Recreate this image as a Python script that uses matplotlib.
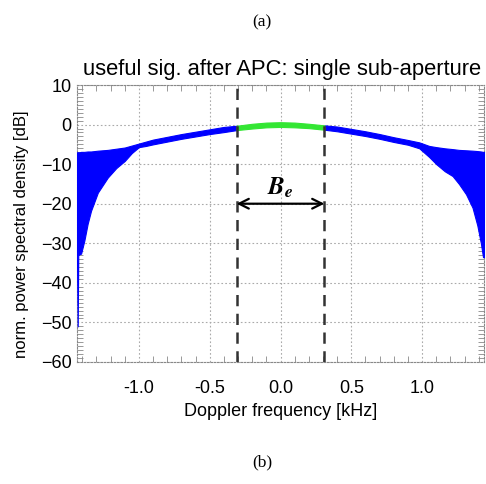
import numpy as np
import matplotlib
matplotlib.use("Agg")
import matplotlib.pyplot as plt
from matplotlib.ticker import MultipleLocator

plt.rcParams["mathtext.fontset"] = "stix"

# ---------------- data ----------------
left_f  = [-1.437, -1.432, -1.428, -1.420, -1.408, -1.385, -1.362, -1.338, -1.290,
           -1.220, -1.160, -1.100, -1.050, -1.000, -0.950, -0.900, -0.800, -0.700,
           -0.600, -0.500, -0.400, -0.310]
left_up = [-7.0, -7.0, -7.0, -7.0, -6.9, -6.9, -6.8, -6.8, -6.6,
           -6.4, -6.1, -5.8, -5.3, -4.8, -4.3, -3.8, -3.1, -2.4,
           -1.8, -1.2, -0.6, -0.3]
left_lo = [-34.0, -51.0, -33.0, -32.8, -32.6, -29.3, -25.1, -21.8, -17.2,
           -13.4, -11.0, -9.2, -7.2, -5.7, -5.4, -5.0, -4.3, -3.6,
           -3.0, -2.4, -1.9, -1.4]

mid_f  = [-0.31, -0.20, -0.10, 0.00, 0.10, 0.20, 0.31]
mid_up = [-0.3, 0.2, 0.5, 0.6, 0.5, 0.2, -0.2]
mid_lo = [-1.4, -1.0, -0.7, -0.6, -0.7, -0.9, -1.3]

right_f  = [0.31, 0.40, 0.50, 0.60, 0.70, 0.80, 0.90, 0.98, 1.05, 1.10,
            1.16, 1.215, 1.26, 1.31, 1.356, 1.39, 1.415, 1.43, 1.437]
right_up = [-0.2, -0.5, -1.1, -1.7, -2.4, -3.2, -3.9, -4.5, -5.4, -5.7,
            -6.0, -6.2, -6.4, -6.5, -6.6, -6.7, -6.8, -6.9, -6.9]
right_lo = [-1.3, -1.7, -2.3, -2.9, -3.6, -4.4, -5.1, -6.0, -8.2, -10.0,
            -11.8, -13.0, -15.0, -17.6, -21.0, -25.5, -30.0, -33.5, -33.5]

band_edges = [-0.31, 0.31]
xticks = [-1.0, -0.5, 0.0, 0.5, 1.0]
yticks = [-60, -50, -40, -30, -20, -10, 0, 10]

# ---------------- figure ----------------
W, H = 486, 484
fig = plt.figure(figsize=(W / 100, H / 100), dpi=100)
ax = fig.add_axes([77 / W, 1 - 362 / H, (484 - 77) / W, (362 - 85) / H])

blue = "#0000ff"
green = "#33e633"
ax.fill_between(left_f, left_lo, left_up, color=blue, lw=0.8, edgecolor=blue, zorder=3)
ax.fill_between(right_f, right_lo, right_up, color=blue, lw=0.8, edgecolor=blue, zorder=3)
ax.fill_between(mid_f, mid_lo, mid_up, color=green, lw=0.8, edgecolor=green, zorder=3)

for xb in band_edges:
    ax.axvline(xb, color="#333333", lw=1.8, ls=(0, (4.5, 3)), zorder=4)

ax.annotate("", xy=(band_edges[1], -20), xytext=(band_edges[0], -20),
            arrowprops=dict(arrowstyle="<->,head_length=0.7,head_width=0.35",
                            color="black", lw=1.6, shrinkA=0, shrinkB=0), zorder=5)
ax.text(0.0, -16.0, r"$\mathbfit{B}_{\mathbfit{e}}$", ha="center", va="center",
        fontsize=18, zorder=5)

ax.set_xlim(-1.437, 1.437)
ax.set_ylim(-60, 10)
ax.set_xticks(xticks)
ax.set_xticklabels([f"{v:.1f}" for v in xticks])
ax.set_yticks(yticks)
ax.xaxis.set_minor_locator(MultipleLocator(0.1))
ax.yaxis.set_minor_locator(MultipleLocator(1))
ax.grid(True, which="major", color="#aaaaaa", ls=(0, (1.5, 2)), lw=0.8, zorder=1)
ax.tick_params(which="both", direction="in", top=True, right=True, colors="#888888",
               labelcolor="black", labelsize=13)
ax.tick_params(which="major", length=0)
ax.tick_params(axis="x", which="major", pad=13)
ax.tick_params(axis="y", which="major", pad=4)
ax.tick_params(which="minor", length=4, width=0.6)
for s in ax.spines.values():
    s.set_color("#888888")
    s.set_linestyle((0, (1.5, 1.5)))
    s.set_linewidth(0.8)

sans = "Liberation Sans"
serif = "Liberation Serif"
for lab in ax.get_xticklabels() + ax.get_yticklabels():
    lab.set_fontfamily(sans)

fig.text(282 / W, 1 - 75 / H, "useful sig. after APC: single sub-aperture",
         ha="center", va="baseline", fontsize=15.8, family=sans)
fig.text(281 / W, 1 - 411 / H, "Doppler frequency [kHz]",
         ha="center", va="center", fontsize=13, family=sans)
fig.text(22 / W, 1 - 234 / H, "norm. power spectral density [dB]",
         ha="center", va="center", rotation=90, fontsize=12, family=sans)
fig.text(262 / W, 1 - 22 / H, "(a)", ha="center", va="center", fontsize=12.5, family=serif)
fig.text(262 / W, 1 - 462 / H, "(b)", ha="center", va="center", fontsize=12.5, family=serif)

fig.savefig("out.png", dpi=100)
